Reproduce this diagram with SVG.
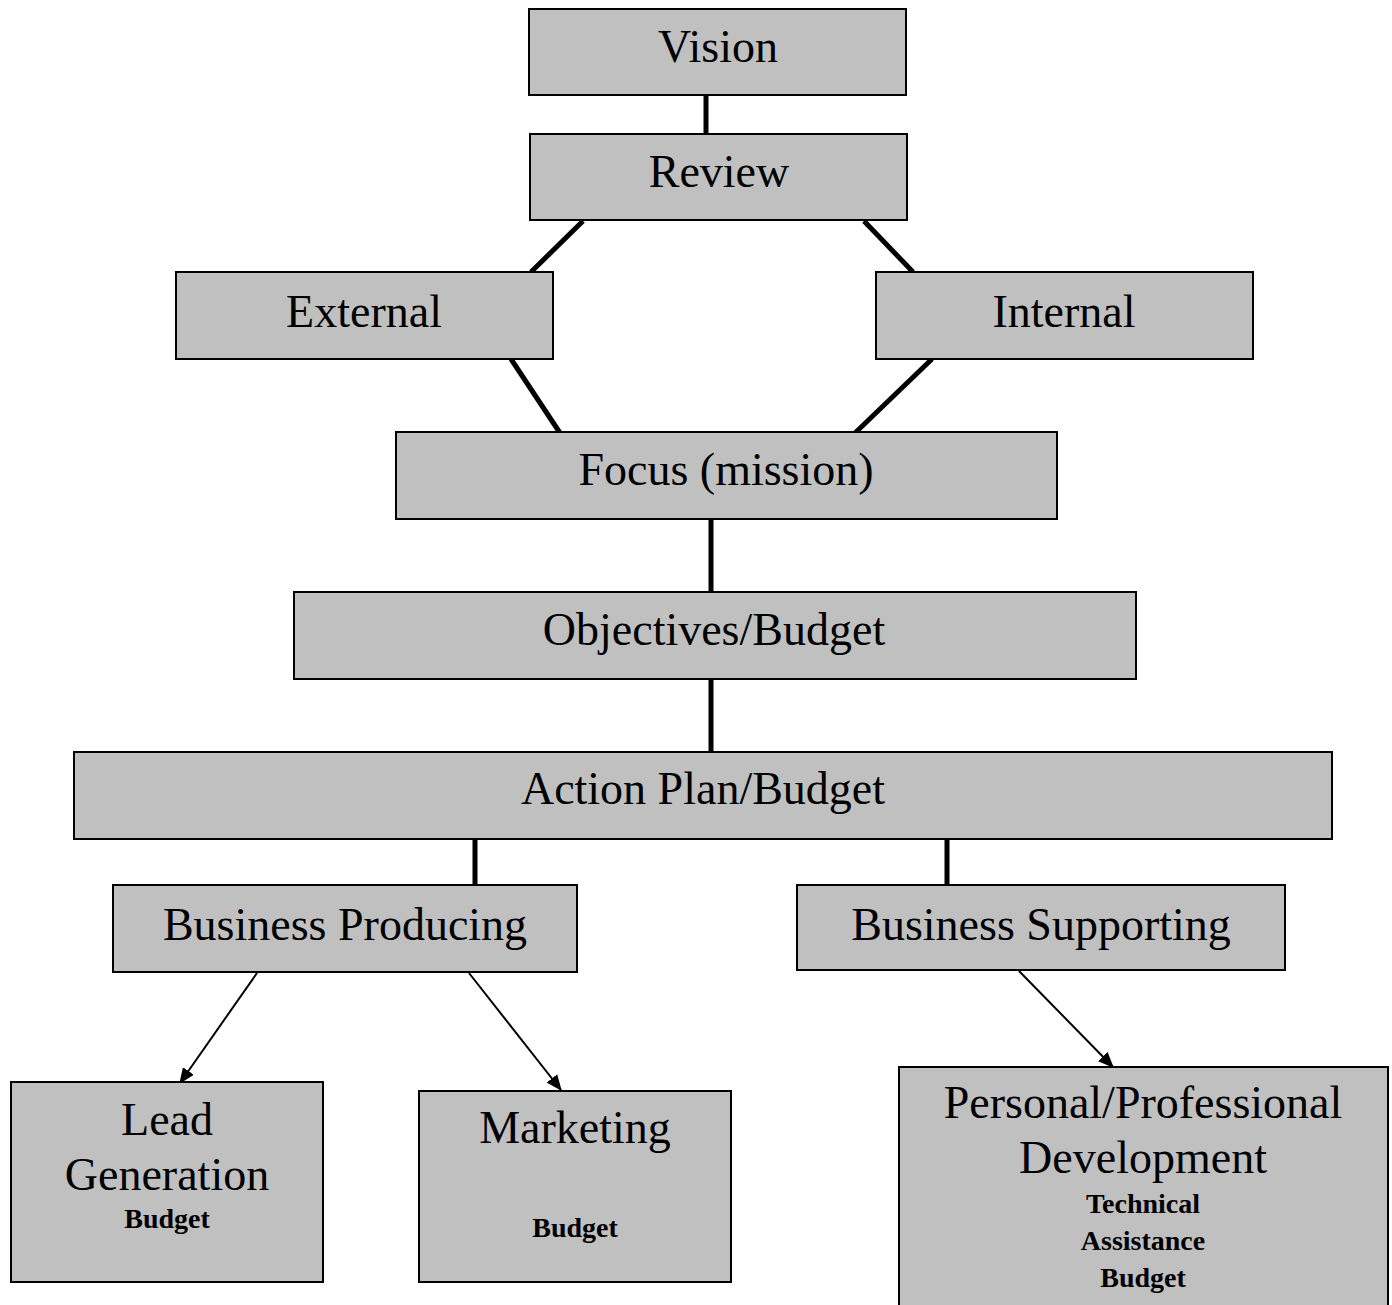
<svg xmlns="http://www.w3.org/2000/svg" width="1392" height="1305" viewBox="0 0 1392 1305">
<style>
.box{fill:#c0c0c0;stroke:#000;stroke-width:2}
.t{font-family:"Liberation Serif",serif;font-size:46px;fill:#000;text-anchor:middle}
.s{font-family:"Liberation Serif",serif;font-size:28px;font-weight:bold;fill:#000;text-anchor:middle}
.thick{stroke:#000;stroke-width:5;fill:none}
.arr{stroke:#000;stroke-width:2;fill:none;marker-end:url(#ah)}
</style>
<defs>
<marker id="ah" viewBox="0 0 12 10" refX="11" refY="5" markerWidth="8" markerHeight="7" orient="auto">
<path d="M0,0 L12,5 L0,10 z" fill="#000" stroke="none"/>
</marker>
</defs>
<rect width="1392" height="1305" fill="#fff"/>
<g id="connectors">
<line class="thick" x1="706" y1="95" x2="706" y2="135"/>
<line class="thick" x1="583" y1="221" x2="531" y2="272"/>
<line class="thick" x1="864" y1="221" x2="913" y2="272"/>
<line class="thick" x1="511" y1="359" x2="560" y2="433"/>
<line class="thick" x1="932" y1="359" x2="855" y2="433"/>
<line class="thick" x1="711" y1="519" x2="711" y2="592"/>
<line class="thick" x1="711" y1="679" x2="711" y2="752"/>
<line class="thick" x1="475" y1="839" x2="475" y2="885"/>
<line class="thick" x1="947" y1="839" x2="947" y2="885"/>
<line class="arr" x1="257" y1="973" x2="180" y2="1083"/>
<line class="arr" x1="469" y1="973" x2="561" y2="1090"/>
<line class="arr" x1="1019" y1="971" x2="1113" y2="1067"/>
</g>
<g id="vision"><rect class="box" x="529" y="9" width="377" height="86"/><text class="t" x="718" y="62">Vision</text></g>
<g id="review"><rect class="box" x="530" y="134" width="377" height="86"/><text class="t" x="719" y="187">Review</text></g>
<g id="external"><rect class="box" x="176" y="272" width="377" height="87"/><text class="t" x="364" y="327">External</text></g>
<g id="internal"><rect class="box" x="876" y="272" width="377" height="87"/><text class="t" x="1064" y="327">Internal</text></g>
<g id="focus"><rect class="box" x="396" y="432" width="661" height="87"/><text class="t" x="726" y="485">Focus (mission)</text></g>
<g id="objectives"><rect class="box" x="294" y="592" width="842" height="87"/><text class="t" x="714" y="645">Objectives/Budget</text></g>
<g id="action"><rect class="box" x="74" y="752" width="1258" height="87"/><text class="t" x="703" y="804">Action Plan/Budget</text></g>
<g id="producing"><rect class="box" x="113" y="885" width="464" height="87"/><text class="t" x="345" y="940">Business Producing</text></g>
<g id="supporting"><rect class="box" x="797" y="885" width="488" height="85"/><text class="t" x="1041" y="940">Business Supporting</text></g>
<g id="lead"><rect class="box" x="11" y="1082" width="312" height="200"/><text class="t" x="167" y="1135">Lead</text><text class="t" x="167" y="1190">Generation</text><text class="s" x="167" y="1228">Budget</text></g>
<g id="marketing"><rect class="box" x="419" y="1091" width="312" height="191"/><text class="t" x="575" y="1143">Marketing</text><text class="s" x="575" y="1237">Budget</text></g>
<g id="personal"><rect class="box" x="899" y="1067" width="489" height="245"/><text class="t" x="1143" y="1118">Personal/Professional</text><text class="t" x="1143" y="1173">Development</text><text class="s" x="1143" y="1213">Technical</text><text class="s" x="1143" y="1250">Assistance</text><text class="s" x="1143" y="1287">Budget</text></g>
</svg>
